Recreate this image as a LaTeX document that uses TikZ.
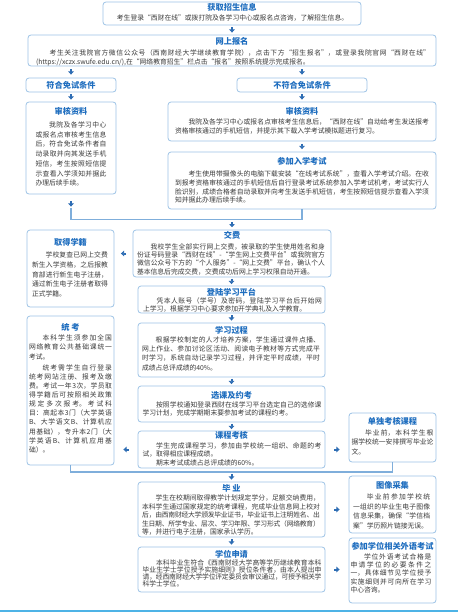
\documentclass[tikz,border=0pt]{standalone}
\usepackage{fontspec}
\setmainfont{Noto Sans CJK SC}
\usetikzlibrary{arrows.meta,calc}
\XeTeXlinebreaklocale "zh"
\XeTeXlinebreakskip=0pt plus 1.5pt minus 0.3pt
\definecolor{ttlblue}{HTML}{1F6EBF}
\definecolor{boxblue}{HTML}{9DC3E6}
\definecolor{arrblue}{HTML}{2E6DB4}
\definecolor{connblue}{HTML}{7FAEDB}
\definecolor{txtgray}{HTML}{3A3A3A}
\definecolor{skyline}{HTML}{4DB3E6}
\newcommand\LB{\linebreak}
\newcommand\IN{\hspace*{2em}}
\newcommand\mybox[5]{\node[box, minimum width={(#4)-(#2)}, minimum height={(#5)-(#3)}] (#1) at ({((#2)+(#4))/2},{((#3)+(#5))/2}) {};}
\newcommand\mytitle[4]{\node[ttl] (#1) at (#2,{(#3)+3.0}) {#4};}
\newcommand\bodytext[6]{\node[body, text width=#4pt, font=\fontsize{6.8}{#5}\selectfont] (#1) at (#2,{(#3)+2.5}) {#6};}
\newcommand\downarr[2]{\draw[arr] ($(#1)!0.5!(#2)$) ++(0,-2.6) -- ++(0,5.2);}
\newcommand\leftarr[2]{\draw[arr] ($(#1)!0.5!(#2)$) ++(2.6,0) -- ++(-5.2,0);}
\newcommand\rightarr[2]{\draw[arr] ($(#1)!0.5!(#2)$) ++(-2.6,0) -- ++(5.2,0);}
\begin{document}
\begin{tikzpicture}[x=1pt,y=-1pt,
  box/.style={draw=boxblue, line width=0.8pt, rounded corners=3pt, fill=white, inner sep=0pt, outer sep=0pt},
  ttl/.style={text=ttlblue, font=\fontsize{8.2}{9}\selectfont\bfseries, anchor=base, inner sep=0pt},
  body/.style={text=txtgray, anchor=base, inner sep=0pt, align=justify},
  bodyline/.style={text=txtgray, anchor=base, inner sep=0pt, font=\fontsize{6.8}{8}\selectfont},
  arr/.style={draw=arrblue, line width=2pt, -{Triangle[width=5.5pt,length=3.2pt]}},
  conn/.style={draw=connblue, line width=1.1pt}]
\fill[white] (0,0) rectangle (458,613);
\useasboundingbox (0,0) rectangle (458,613);

% boxes
\mybox{info}{103}{2}{361}{25}
\mybox{bm}{28}{35}{436}{66}
\mybox{fh}{26}{78}{116}{92}
\mybox{bfh}{237}{78}{367}{92}
\mybox{shl}{26}{102}{116}{194}
\mybox{shr}{168}{102}{436}{141}
\mybox{ks}{168}{152}{436}{209}
\mybox{jf}{133}{230}{331}{277}
\mybox{xj}{27}{230}{114}{307}
\mybox{dl}{138}{286}{325}{313}
\mybox{gc}{138}{323}{325}{377}
\mybox{tk}{27}{316}{114}{465}
\mybox{xk}{138}{386}{325}{422}
\mybox{kh}{138}{431}{325}{468}
\mybox{dd}{349}{413}{436}{462}
\mybox{by}{138}{482}{325}{537}
\mybox{tx}{349}{476}{436}{533}
\mybox{xw}{138}{547}{325}{592}
\mybox{wy}{349}{538}{436}{603}

% titles
\mytitle{info-t}{232}{7.3}{获取招生信息}
\mytitle{bm-t}{232}{41.7}{网上报名}
\mytitle{fh-t}{71}{85}{符合免试条件}
\mytitle{bfh-t}{302}{85}{不符合免试条件}
\mytitle{shl-t}{71}{111}{审核资料}
\mytitle{shr-t}{302}{111}{审核资料}
\mytitle{ks-t}{302}{161}{参加入学考试}
\mytitle{jf-t}{232}{235}{交费}
\mytitle{xj-t}{70.5}{242.3}{取得学籍}
\mytitle{dl-t}{231.5}{292.3}{登陆学习平台}
\mytitle{gc-t}{231.5}{330}{学习过程}
\mytitle{tk-t}{70.5}{327.3}{统 考}
\mytitle{xk-t}{231.5}{395}{选课及约考}
\mytitle{kh-t}{231.5}{435.7}{课程考核}
\mytitle{dd-t}{392.5}{421.7}{单独考核课程}
\mytitle{by-t}{231.5}{488.3}{毕 业}
\mytitle{tx-t}{392.5}{485.7}{图像采集}
\mytitle{xw-t}{231.5}{554}{学位申请}
\mytitle{wy-t}{392.5}{546}{参加学位相关外语考试}

% body texts
\node[bodyline] (info-b) at (232.5,{18.3+2.5}) {考生登录“西财在线”或拨打院及各学习中心或报名点咨询，了解招生信息。};
\bodytext{bm-b}{233}{53.3}{394}{8.4}{\IN 考生关注我院官方微信公众号（西南财经大学继续教育学院），点击下方“招生报名”，或登录我院官网“西财在线”\LB{}(https://xczx.swufe.edu.cn/),在“网络教育招生”栏点击“报名”按照系统提示完成报名。}
\bodytext{shl-b}{71}{125}{71}{9.7}{\IN 我院及各学习中心\LB{}或报名点审核考生信息\LB{}后，符合免试条件者自\LB{}动录取并向其发送手机\LB{}短信，考生按照短信提\LB{}示查看入学须知并据此\LB{}办理后续手续。}
\bodytext{shr-b}{302}{122.3}{254}{8.7}{\IN 我院及各学习中心或报名点审核考生信息后，“西财在线”自动给考生发送报考\LB{}资格审核通过的手机短信，并提示其下载入学考试模拟题进行复习。}
\bodytext{ks-b}{302}{174.3}{254}{8.6}{\IN 考生使用带摄像头的电脑下载安装“在线考试系统”，查看入学考试介绍。在收\LB{}到报考资格审核通过的手机短信后自行登录考试系统参加入学考试机考，考试实行人\LB{}脸识别，成绩合格者自动录取并向考生发送手机短信，考生按照短信提示查看入学须\LB{}知并据此办理后续手续。}
\bodytext{jf-b}{231}{246.7}{188}{8.35}{\IN 我校学生全部实行网上交费，被录取的学生使用姓名和身\LB{}份证号码登录“西财在线”-“学生网上交费平台”或我院官方\LB{}微信公众号下方的“个人服务”-“网上交费”平台，确认个人\LB{}基本信息后完成交费，交费成功后网上学习权限自动开通。}
\bodytext{xj-b}{70}{255}{76}{9.75}{\IN 学校复查已网上交费\LB{}新生入学资格，之后报教\LB{}育部进行新生电子注册，\LB{}通过新生电子注册者取得\LB{}正式学籍。}
\bodytext{dl-b}{232.5}{301}{179}{7.8}{\IN 凭本人账号（学号）及密码，登陆学习平台后开始网\LB{}上学习，根据学习中心要求参加开学典礼及入学教育。}
\bodytext{gc-b}{231}{340}{178}{9.2}{\IN 根据学校制定的人才培养方案，学生通过课件点播、\LB{}网上作业、参加讨论区活动、阅读电子教材等方式完成平\LB{}时学习，系统自动记录学习过程，并评定平时成绩，平时\LB{}成绩占总评成绩的40\%。}
\bodytext{tk-b}{70.5}{338.3}{83}{9.15}{\IN 本科学生须参加全国\LB{}网络教育公共基础课统一\LB{}考试。\par\vspace{1.8pt}\IN 统考需学生自行登录\LB{}统考网站注册、报考及缴\LB{}费。考试一年3次，学员取\LB{}得学籍后可按照相关政策\LB{}规定多次报考。考试科\LB{}目：高起本3门（大学英语\LB{}B、大学语文B、计算机应\LB{}用基础），专升本2门（大\LB{}学英语B、计算机应用基\LB{}础）。}
\bodytext{xk-b}{232}{405}{179}{8.3}{\IN 按照学校通知登录西财在线学习平台选定自己的选修课\LB{}学习计划，完成学期期末要参加考试的课程约考。}
\bodytext{kh-b}{232}{445.7}{179}{8.5}{\IN 学生完成课程学习，参加由学校统一组织、命题的考\LB{}试，取得相应课程成绩。\par\IN 期末考试成绩占总评成绩的60\%。}
\bodytext{dd-b}{392.5}{432.7}{82}{9.5}{\IN 毕业前，本科学生根\LB{}据学校统一安排撰写毕业论\LB{}文。}
\bodytext{by-b}{231}{498.3}{178}{8.5}{\IN 学生在校期间取得教学计划规定学分，足额交纳费用，\LB{}本科学生通过国家规定的统考课程，完成毕业信息网上校对\LB{}后，由西南财经大学颁发毕业证书，毕业证书上注明姓名、出\LB{}生日期、所学专业、层次、学习年限、学习形式（网络教育）\LB{}等，并进行电子注册，国家承认学历。}
\bodytext{tx-b}{391.7}{496.7}{77}{9.8}{\IN 毕业前参加学校统\LB{}一组织的毕业生电子图像\LB{}信息采集，确保“学信档\LB{}案”学历照片链接无误。}
\bodytext{xw-b}{232}{562.7}{179}{7.2}{\IN 本科毕业生符合《西南财经大学高等学历继续教育本科\LB{}毕业生学士学位授予实施细则》授位条件者，由本人提出申\LB{}请，经西南财经大学学位评定委员会审议通过，可授予相关学\LB{}科学士学位。}
\bodytext{wy-b}{391}{556.7}{81}{8.3}{\IN 学位外语考试合格是\LB{}申请学位的必要条件之\LB{}一，具体细节见学位授予\LB{}实施细则并可向所在学习\LB{}中心咨询。}

% connectors
\coordinate (c1) at ($(shl.south)+(0,13.5)$);
\coordinate (j1) at (232,219.3);
\coordinate (j2) at (232,472);
\draw[conn] (c1) |- (j1) -| (ks.south);
\draw[conn] (tk.south) |- (j2) -| (dd.south);

% arrows
\downarr{info.south}{bm.north}
\downarr{bm.south -| fh.north}{fh.north}
\downarr{bm.south -| bfh.north}{bfh.north}
\downarr{fh.south}{shl.north}
\downarr{bfh.south}{shr.north}
\downarr{shr.south}{ks.north}
\draw[arr] ($(shl.south)+(0,7.4)$) -- ++(0,5.2);
\downarr{j1}{jf.north}
\leftarr{jf.west}{jf.west -| xj.east}
\downarr{jf.south -| dl.north}{dl.north}
\downarr{dl.south}{gc.north}
\downarr{gc.south}{xk.north}
\downarr{xk.south}{kh.north}
\leftarr{kh.west}{kh.west -| tk.east}
\rightarr{kh.east}{kh.east -| dd.west}
\downarr{j2 -| by.north}{by.north}
\rightarr{by.east}{by.east -| tx.west}
\downarr{by.south}{xw.north}
\rightarr{xw.east}{xw.east -| wy.west}

% bottom rule
\draw[draw=skyline, line width=2pt] (0,611) -- (458,611);
\end{tikzpicture}
\end{document}
